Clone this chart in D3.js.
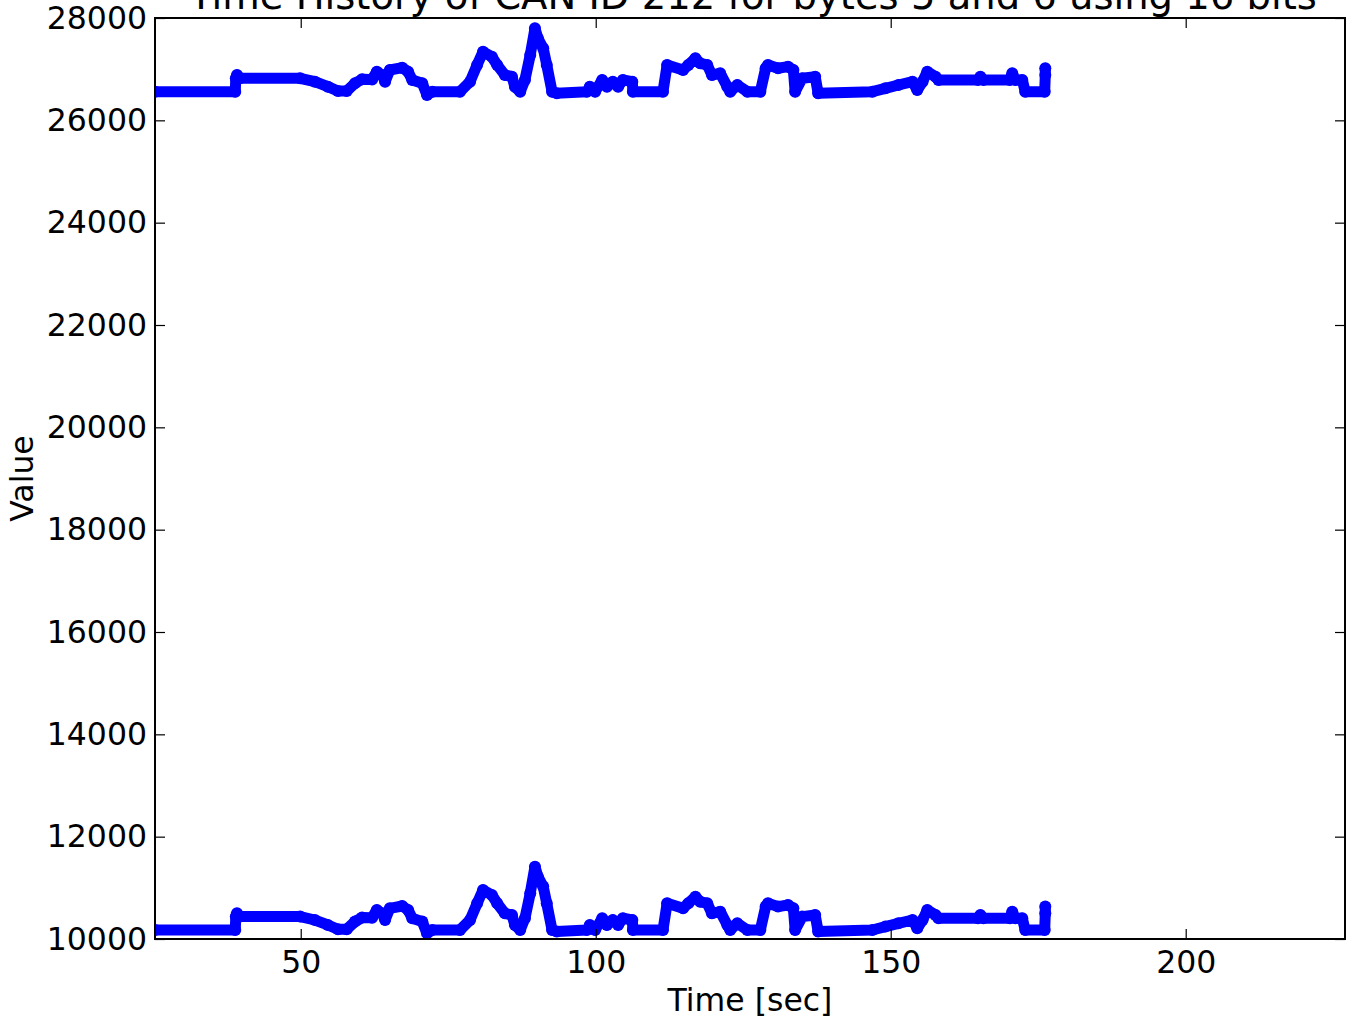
<!DOCTYPE html>
<html>
<head>
<meta charset="utf-8">
<script src="https://cdn.jsdelivr.net/npm/d3@7"></script>
<style>
  html, body { margin: 0; padding: 0; background: #fff; }
  svg { display: block; }
  text { font-family: "DejaVu Sans", sans-serif; fill: #000; }
</style>
</head>
<body>
<script>
// ---- data ----
const title = "Time History of CAN ID 212 for bytes 5 and 6 using 16 bits";
const xLabel = "Time [sec]";
const yLabel = "Value";
const xTicks = [50, 100, 150, 200];
const yTicks = [10000, 12000, 14000, 16000, 18000, 20000, 22000, 24000, 26000, 28000];

const time = [25.3, 38.9, 39.0, 39.2, 39.7, 49.9, 52.4, 54.6, 56.3, 57.8, 59.2, 60.4, 62.1, 62.9, 63.8, 64.3, 65.1, 67.2, 68.2, 68.9, 70.6, 71.4, 72.3,
  77.0, 78.7, 79.9, 80.9, 82.4, 83.3, 84.6, 85.8, 86.3, 87.2, 88.0, 88.9, 89.7, 90.2, 91.1, 91.7, 92.6, 93.4,
  98.5, 99.0, 99.9, 101.1, 101.9, 102.9, 103.8, 104.6, 106.2, 106.3, 111.4, 112.1, 114.8, 115.7, 116.9, 117.7, 118.9, 119.7, 121.1, 122.3, 122.8, 124.0, 125.7,
  127.9, 128.8, 129.2, 130.9, 132.6, 133.5, 133.8, 135.0, 137.2, 137.7, 146.9, 149.1, 151.3, 153.7, 154.5, 155.4, 156.2, 157.6, 158.1,
  164.8, 165.2, 165.7, 170.2, 170.6, 171.1, 172.3, 172.8, 176.1, 176.2, 176.2];

const bytes56High = [26560, 26560, 26822, 26886, 26822, 26822, 26755, 26658, 26574, 26574, 26724, 26802, 26800, 26951, 26886, 26755, 26984, 27029, 26951, 26789, 26724, 26495, 26560,
  26560, 26755, 27082, 27342, 27244, 27082, 26886, 26853, 26658, 26560, 26789, 27277, 27798, 27603, 27408, 27082, 26560, 26529,
  26560, 26658, 26560, 26789, 26658, 26755, 26658, 26789, 26755, 26560, 26560, 27082, 26984, 27082, 27212, 27114, 27082, 26886, 26919, 26658, 26560, 26690, 26560,
  26560, 27017, 27082, 27017, 27049, 26984, 26560, 26822, 26853, 26529, 26560, 26626, 26690, 26755, 26593, 26755, 26951, 26853, 26789,
  26789, 26853, 26789, 26789, 26919, 26789, 26789, 26560, 26560, 26886, 27017];

const bytes56Low = [10176, 10176, 10438, 10502, 10438, 10438, 10371, 10274, 10190, 10190, 10340, 10418, 10416, 10567, 10502, 10371, 10600, 10645, 10567, 10405, 10340, 10111, 10176,
  10176, 10371, 10698, 10958, 10860, 10698, 10502, 10469, 10274, 10176, 10405, 10893, 11414, 11219, 11024, 10698, 10176, 10145,
  10176, 10274, 10176, 10405, 10274, 10371, 10274, 10405, 10371, 10176, 10176, 10698, 10600, 10698, 10828, 10730, 10698, 10502, 10535, 10274, 10176, 10306, 10176,
  10176, 10633, 10698, 10633, 10665, 10600, 10176, 10438, 10469, 10145, 10176, 10242, 10306, 10371, 10209, 10371, 10567, 10469, 10405,
  10405, 10469, 10405, 10405, 10535, 10405, 10405, 10176, 10176, 10502, 10633];

const seriesList = [bytes56High, bytes56Low];

// ---- layout ----
const W = 1353, H = 1020;
const L = 155, R = 1345, T = 18, B = 939;

const svg = d3.select("body").append("svg").attr("width", W).attr("height", H);

const x = d3.scaleLinear().domain([25.3, 227.0]).range([L, R]);
const y = d3.scaleLinear().domain([10000, 28000]).range([B, T]);

svg.append("clipPath").attr("id", "clip")
  .append("rect").attr("x", L).attr("y", T).attr("width", R - L).attr("height", B - T);

const plot = svg.append("g").attr("clip-path", "url(#clip)");
const line = d3.line().x((d, i) => x(time[i])).y(d => y(d));

seriesList.forEach(s => {
  plot.append("path").datum(s)
    .attr("d", line)
    .attr("fill", "none")
    .attr("stroke", "#0000ff")
    .attr("stroke-width", 11)
    .attr("stroke-linejoin", "round")
    .attr("stroke-linecap", "round");
  plot.selectAll(null).data(s).enter().append("circle")
    .attr("cx", (d, i) => x(time[i]))
    .attr("cy", d => y(d))
    .attr("r", 6)
    .attr("fill", "#0000ff");
});

// ---- axes (inward ticks, all sides) ----
const tickLen = 10;
const fs = 31.5;
const axB = svg.append("g").attr("transform", `translate(0,${B})`)
  .call(d3.axisBottom(x).tickValues(xTicks).tickSizeInner(-tickLen).tickSizeOuter(0).tickPadding(12).tickFormat(d3.format("d")));
const axT = svg.append("g").attr("transform", `translate(0,${T})`)
  .call(d3.axisTop(x).tickValues(xTicks).tickSizeInner(-tickLen).tickSizeOuter(0).tickFormat(""));
const axL = svg.append("g").attr("transform", `translate(${L},0)`)
  .call(d3.axisLeft(y).tickValues(yTicks).tickSizeInner(-tickLen).tickSizeOuter(0).tickPadding(8).tickFormat(d3.format("d")));
const axR = svg.append("g").attr("transform", `translate(${R},0)`)
  .call(d3.axisRight(y).tickValues(yTicks).tickSizeInner(-tickLen).tickSizeOuter(0).tickFormat(""));

[axB, axT, axL, axR].forEach(a => {
  a.select(".domain").remove();
  a.selectAll(".tick line").attr("stroke", "#000").attr("stroke-width", 1.2);
  a.selectAll("text").attr("font-family", "DejaVu Sans").attr("font-size", fs).attr("fill", "#000");
});

// frame
svg.append("rect").attr("x", L).attr("y", T).attr("width", R - L).attr("height", B - T)
  .attr("fill", "none").attr("stroke", "#000").attr("stroke-width", 2);

// labels
svg.append("text").attr("x", (L + R) / 2).attr("y", 1011).attr("text-anchor", "middle")
  .attr("font-size", fs).text(xLabel);
svg.append("text").attr("transform", `translate(33,${(T + B) / 2}) rotate(-90)`)
  .attr("text-anchor", "middle").attr("font-size", fs).text(yLabel);
svg.append("text").attr("x", (L + R) / 2 + 3).attr("y", 9).attr("text-anchor", "middle")
  .attr("font-size", 38.5).text(title);
</script>
</body>
</html>
